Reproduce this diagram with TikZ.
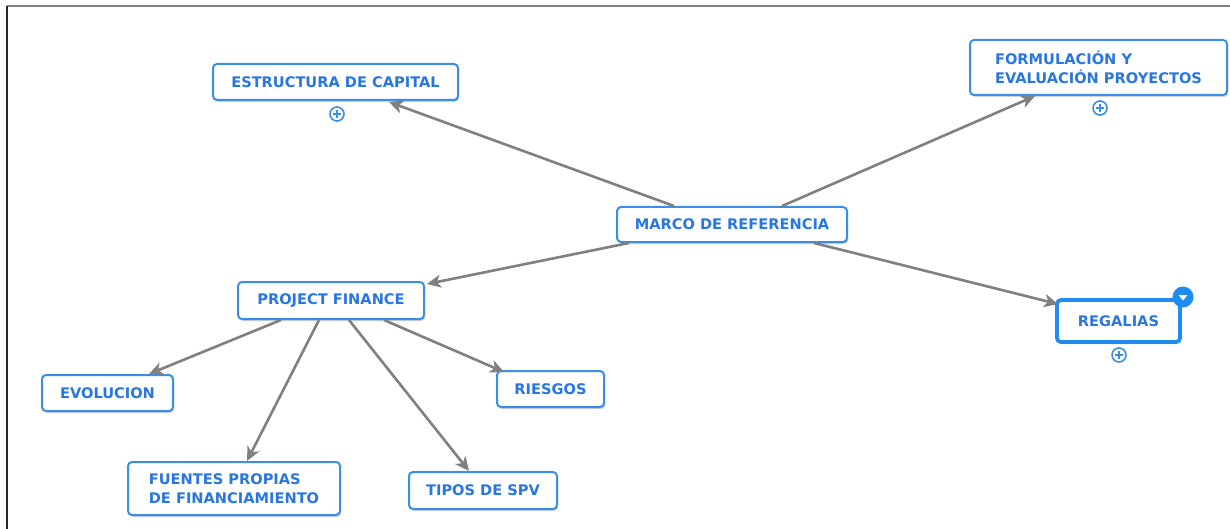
\documentclass[tikz,border=0pt]{standalone}
\usepackage{fontspec}
\setmainfont{DejaVu Sans}
\usetikzlibrary{calc,shadows,arrows.meta}
\definecolor{boxblue}{HTML}{3A8EE8}
\definecolor{selblue}{HTML}{1E8CF2}
\definecolor{textblue}{HTML}{2876E2}
\definecolor{linkgray}{HTML}{808080}
\tikzset{
  concept/.style={draw=boxblue, line width=2pt, fill=white, rounded corners=4pt,
    font=\fontsize{14.6}{19}\selectfont\bfseries, text=textblue, align=left,
    inner sep=0pt,
    drop shadow={shadow xshift=1.2pt, shadow yshift=-2pt, opacity=0.3, fill=black!60}},
  selected/.style={draw=selblue, line width=3.8pt},
  link/.style={draw=linkgray, line width=2.6pt,
    -{Stealth[length=14pt,width=13pt,inset=4pt]}},
  plusicon/.style={circle, draw=boxblue, fill=white, line width=1.6pt,
    minimum size=14pt, inner sep=0pt,
    path picture={\draw[boxblue, line width=1.6pt]
      ($(path picture bounding box.center)+(-3.6pt,0)$) -- ($(path picture bounding box.center)+(3.6pt,0)$)
      ($(path picture bounding box.center)+(0,-3.6pt)$) -- ($(path picture bounding box.center)+(0,3.6pt)$);}},
  menuicon/.style={circle, fill=selblue, minimum size=21pt, inner sep=0pt,
    path picture={\fill[white]
      ($(path picture bounding box.center)+(-4.5pt,2pt)$) --
      ($(path picture bounding box.center)+(4.5pt,2pt)$) --
      ($(path picture bounding box.center)+(0,-3.5pt)$) -- cycle;}}
}
\begin{document}
\begin{tikzpicture}[x=1pt,y=-1pt]
\useasboundingbox (0,0) rectangle (1230,529);
\fill[white] (0,0) rectangle (1230,529);

% frame lines
\draw[linkgray, line width=2.5pt] (7,6) -- (1230,6);
\draw[black!85, line width=2pt] (7,6) -- (7,529);

% concepts
\node[concept, minimum width=230pt, minimum height=35pt] (marco) at (732,224.5) {MARCO DE REFERENCIA};
\node[concept, minimum width=245pt, minimum height=36pt] (capital) at (335.5,82) {ESTRUCTURA DE CAPITAL};
\node[concept, minimum width=257pt, minimum height=55pt] (formul) at (1098.5,67.5) {FORMULACIÓN Y\\EVALUACIÓN PROYECTOS};
\node[concept, minimum width=186pt, minimum height=37pt] (pf) at (331,300.5) {PROJECT FINANCE};
\node[concept, selected, minimum width=123pt, minimum height=42pt] (regalias) at (1118.5,321) {REGALIAS};
\node[concept, minimum width=131pt, minimum height=36pt] (evol) at (107.5,393) {EVOLUCION};
\node[concept, minimum width=107pt, minimum height=36pt] (riesgos) at (550.5,389) {RIESGOS};
\node[concept, minimum width=212pt, minimum height=53pt] (fuentes) at (234,488.5) {FUENTES PROPIAS\\DE FINANCIAMIENTO};
\node[concept, minimum width=148pt, minimum height=37pt] (spv) at (483,490.5) {TIPOS DE SPV};

% expand / menu icons
\node[plusicon] (capplus) at (337,114) {};
\node[plusicon] (formplus) at (1100,108) {};
\node[plusicon] (regplus) at (1119,355) {};
\node[menuicon] (regmenu) at (1183,297) {};

% links from the central concept
\draw[link] ($(marco.north west)+(58,0)$) -- ($(capital.south west)+(177,1)$);
\draw[link] ($(marco.north west)+(166,0)$) -- ($(formul.south west)+(66,0)$);
\draw[link] ($(marco.south west)+(13,0)$) -- ($(pf.north east)+(2,3)$);
\draw[link] ($(marco.south west)+(198,0)$) -- ($(regalias.north west)+(3,6)$);

% links from project finance
\draw[link] ($(pf.south west)+(44,0)$) -- ($(evol.north west)+(108,0)$);
\draw[link] ($(pf.south west)+(82,0)$) -- ($(fuentes.north west)+(120,0)$);
\draw[link] ($(pf.south west)+(112,0)$) -- ($(spv.north west)+(61,0)$);
\draw[link] ($(pf.south west)+(147,0)$) -- ($(riesgos.north west)+(8,2)$);
\end{tikzpicture}
\end{document}
